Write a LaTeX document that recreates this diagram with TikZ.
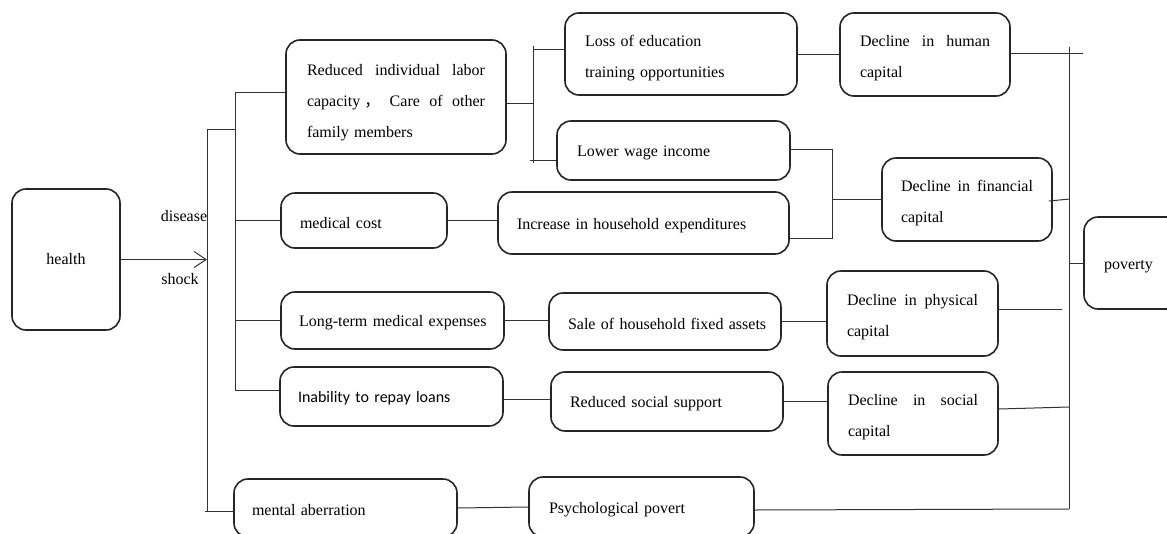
\documentclass[tikz,border=0pt]{standalone}
\usepackage{fontspec}
\setmainfont{Liberation Serif}
\newfontfamily\calfont{Carlito}
\newfontfamily\cjkfont{Noto Sans CJK SC}
\usetikzlibrary{arrows.meta}
\newcommand\jline[2]{\makebox[#1][s]{\spaceskip=0.25em plus 1fil\relax #2}}
\begin{document}
\begin{tikzpicture}[x=1pt,y=-1pt,
  font=\fontsize{16}{31}\selectfont,
  box/.style={draw=black!85, line width=1.6pt, rounded corners=14pt, inner sep=0pt, align=left},
  one/.style={execute at begin node={\rule{0pt}{15.5pt}}},
  two/.style={execute at begin node={\rule{0pt}{19pt}}},
  three/.style={execute at begin node={\rule{0pt}{23pt}}},
  ln/.style={draw=black!80, line width=1pt},
  lbl/.style={inner sep=0pt},
]
\useasboundingbox (0,0) rectangle (1167,533);
\clip (0,0) rectangle (1167,533);

% boxes
\node[box, minimum width=108pt, minimum height=141pt, align=center] (health) at (66,259.5) {health};
\node[box, three, minimum width=220pt, minimum height=114pt, text width=178pt] (reduced) at (396,97)
  {\jline{178pt}{Reduced individual labor}\\\jline{178pt}{capacity\kern4pt{\cjkfont ，} Care of other}\\family members};
\node[box, one, minimum width=166pt, minimum height=55pt, text width=128pt] (medical) at (364,220.5) {\mbox{medical cost}};
\node[box, one, minimum width=223pt, minimum height=57pt, text width=187pt] (longterm) at (392.5,320.5) {\mbox{Long-term medical expenses}};
\node[box, one, minimum width=223pt, minimum height=59pt, text width=187pt, font=\calfont\fontsize{16}{31}\selectfont] (inability) at (391.5,396.5) {\mbox{Inability to repay loans}};
\node[box, one, minimum width=223pt, minimum height=58pt, text width=187pt] (mental) at (345.5,508) {\mbox{mental aberration}};
\node[box, two, minimum width=232pt, minimum height=82pt, text width=192pt] (loss) at (681,54) {Loss of education\\training opportunities};
\node[box, one, minimum width=233pt, minimum height=59pt, text width=193pt] (wage) at (673.5,150.5) {\mbox{Lower wage income}};
\node[box, one, minimum width=291pt, minimum height=62pt, text width=253pt] (increase) at (643.5,223) {\mbox{Increase in household expenditures}};
\node[box, one, minimum width=232pt, minimum height=57pt, text width=194pt] (sale) at (665,321.5) {\mbox{Sale of household fixed assets}};
\node[box, one, minimum width=232pt, minimum height=59pt, text width=194pt] (support) at (667,401.5) {\mbox{Reduced social support}};
\node[box, one, minimum width=225pt, minimum height=60pt, text width=185pt] (psych) at (641.5,507) {\mbox{Psychological povert}};
\node[box, two, minimum width=170pt, minimum height=83pt, text width=130pt] (human) at (925,54.5) {\jline{130pt}{Decline in human}\\capital};
\node[box, two, minimum width=170pt, minimum height=83pt, text width=132pt] (financial) at (967,199.5) {\jline{132pt}{Decline in financial}\\capital};
\node[box, two, minimum width=171pt, minimum height=85pt, text width=131pt] (physical) at (912.5,313.5) {\jline{131pt}{Decline in physical}\\capital};
\node[box, two, minimum width=170pt, minimum height=83pt, text width=130pt] (social) at (913,413.5) {\jline{130pt}{Decline in social}\\capital};
\node[box, one, minimum width=100pt, minimum height=92pt, text width=60pt] (poverty) at (1134,263) {\mbox{poverty}};

% labels
\node[lbl] (disease) at (184,216) {disease};
\node[lbl] (shock) at (180,279) {shock};

% junction coordinates
\coordinate (a1) at (207,129);
\coordinate (a2) at (207,511);
\coordinate (b1) at (235,92);
\coordinate (b2) at (235,390);
\coordinate (r1) at (533,103);
\coordinate (c0) at (533,46);
\coordinate (c1) at (533,49);
\coordinate (c2) at (533,160);
\coordinate (c3) at (533,163);
\coordinate (d1) at (832,149);
\coordinate (d2) at (832,238);
\coordinate (e1) at (1069,47);
\coordinate (e2) at (1069,509);
\coordinate (e3) at (1083,53);
\coordinate (p1) at (1062,309);
\coordinate (y399) at (0,399);
\coordinate (y409) at (0,409);
\coordinate (y407) at (0,407);
\coordinate (y510) at (0,510);

% left tree
\draw[ln, -{Straight Barb[length=12pt,width=16pt,line width=1pt]}] (health.east) -- (health.east -| a1);
\draw[ln] (a1) -- (a2);
\draw[ln] (a1) -- (a1 -| b1);
\draw[ln] ([xshift=-2pt]a2) -- (a2 -| mental.west);
\draw[ln] (b1) -- (b2);
\draw[ln] (b1) -- (b1 -| reduced.west);
\draw[ln] (medical.west) -- (medical.west -| b1);
\draw[ln] (longterm.west) -- (longterm.west -| b1);
\draw[ln] (b2) -- (b2 -| inability.west);

% reduced branch
\draw[ln] (r1 -| reduced.east) -- (r1);
\draw[ln] (c0) -- (c3);
\draw[ln] (c1) -- (c1 -| loss.west);
\draw[ln] ([xshift=-3pt]c2) -- (c2 -| wage.west);
\draw[ln] (loss.east) -- (loss.east -| human.west);

% financial branch
\draw[ln] (d1 -| wage.east) -- (d1) -- (d2) -- (d2 -| increase.east);
\draw[ln] (d1 |- financial.west) -- (financial.west);
\draw[ln] (medical.east) -- (medical.east -| increase.west);

% middle rows
\draw[ln] (longterm.east) -- (longterm.east -| sale.west);
\draw[ln] (sale.east) -- (sale.east -| physical.west);
\draw[ln] (inability.east |- y399) -- (support.west |- y399);
\draw[ln] (support.east) -- (support.east -| social.west);
\draw[ln] (mental.east) -- (psych.west);

% right collector
\draw[ln] (e1) -- (e2);
\draw[ln] (e3 -| human.east) -- (e3);
\draw[ln] ([xshift=-4pt,yshift=-1.5pt]financial.east) -- ([xshift=1pt,yshift=0.5pt]e1 |- financial.east);
\draw[ln] (e1 |- poverty.west) -- (poverty.west);
\draw[ln] (p1 -| physical.east) -- (p1);
\draw[ln] (social.east |- y409) -- (e1 |- y407);
\draw[ln] (psych.east |- y510) -- (e2);
\end{tikzpicture}
\end{document}
